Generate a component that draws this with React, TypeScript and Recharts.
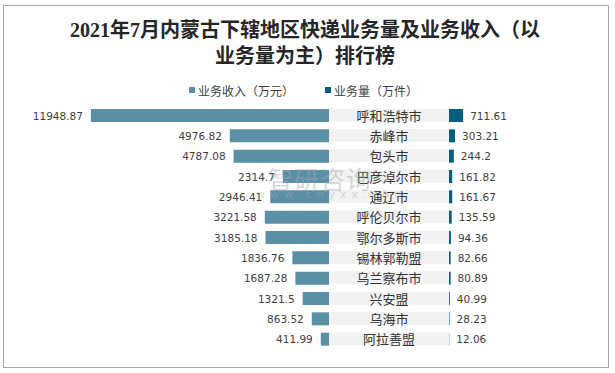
import React from "react";
import { BarChart, Bar, XAxis, YAxis, LabelList } from "recharts";

const regions = [
  "呼和浩特市",
  "赤峰市",
  "包头市",
  "巴彦淖尔市",
  "通辽市",
  "呼伦贝尔市",
  "鄂尔多斯市",
  "锡林郭勒盟",
  "乌兰察布市",
  "兴安盟",
  "乌海市",
  "阿拉善盟",
];
const revenue = [
  11948.87, 4976.82, 4787.08, 2314.7, 2946.41, 3221.58, 3185.18, 1836.76,
  1687.28, 1321.5, 863.52, 411.99,
];
const volume = [
  711.61, 303.21, 244.2, 161.82, 161.67, 135.59, 94.36, 82.66, 80.89, 40.99,
  28.23, 12.06,
];

const REV_COLOR = "#5b8fa6";
const VOL_COLOR = "#005f7f";
const NUM_FONT = "'DejaVu Sans', Verdana, sans-serif";
const CJK_FONT = "'Noto Sans CJK SC', sans-serif";

const rows = regions.map((name, i) => ({
  name,
  revenue: revenue[i],
  volume: volume[i],
}));

const MARGIN_TOP = 105;
const MARGIN_BOTTOM = 24;

function LeftLabel(props: any) {
  const { x, y, width, height, value } = props;
  const left = Math.min(x, x + width);
  return (
    <text
      x={left - 8}
      y={y + height / 2}
      textAnchor="end"
      dominantBaseline="central"
      fontSize={10.5}
      fontFamily={NUM_FONT}
      fill="#404040"
    >
      {value}
    </text>
  );
}

function RightLabel(props: any) {
  const { x, y, width, height, value } = props;
  const right = Math.max(x, x + width);
  return (
    <text
      x={right + 7}
      y={y + height / 2}
      textAnchor="start"
      dominantBaseline="central"
      fontSize={10.5}
      fontFamily={NUM_FONT}
      fill="#404040"
    >
      {value}
    </text>
  );
}

function RegionTick(props: any) {
  const { y, payload } = props;
  return (
    <g>
      <rect x={0} y={y - 6.5} width={120} height={13} fill="#f2f2f2" />
      <text
        x={60}
        y={y}
        textAnchor="middle"
        dominantBaseline="central"
        fontSize={13}
        fontFamily={CJK_FONT}
        fill="#333333"
      >
        {payload.value}
      </text>
    </g>
  );
}

export default function App() {
  return (
    <div
      style={{
        position: "absolute",
        left: 0,
        top: 0,
        width: 615,
        height: 373,
        background: "#fff",
        overflow: "hidden",
      }}
    >
      <div
        style={{
          position: "absolute",
          left: 3,
          top: 5,
          width: 604,
          height: 361,
          border: "1px solid #a6a6a6",
        }}
      />
      <div
        style={{
          position: "absolute",
          left: 0,
          top: 17,
          width: 610,
          textAlign: "center",
          fontFamily: "'Liberation Serif', 'Noto Sans CJK SC', serif",
          fontWeight: "bold",
          fontSize: 20,
          lineHeight: "26px",
          color: "#262626",
        }}
      >
        2021年7月内蒙古下辖地区快递业务量及业务收入（以
        <br />
        业务量为主）排行榜
      </div>

      {/* legend */}
      <div
        style={{
          position: "absolute",
          left: 189,
          top: 82,
          height: 16,
          display: "flex",
          alignItems: "center",
          fontFamily: CJK_FONT,
          fontSize: 12,
          color: "#404040",
        }}
      >
        <span style={{ width: 6, height: 6, background: REV_COLOR, marginRight: 3 }} />
        <span>业务收入（万元）</span>
        <span
          style={{ width: 6, height: 6, background: VOL_COLOR, marginLeft: 31, marginRight: 3 }}
        />
        <span>业务量（万件）</span>
      </div>

      <div style={{ position: "absolute", left: 0, top: 0 }}>
        <BarChart
          width={329}
          height={373}
          layout="vertical"
          data={rows}
          margin={{ top: MARGIN_TOP, bottom: MARGIN_BOTTOM, left: 50, right: 0 }}
        >
          <XAxis type="number" domain={[0, 14000]} reversed hide />
          <YAxis type="category" dataKey="name" hide />
          <Bar dataKey="revenue" fill={REV_COLOR} barSize={13} isAnimationActive={false}>
            <LabelList dataKey="revenue" content={LeftLabel} />
          </Bar>
        </BarChart>
      </div>

      <div style={{ position: "absolute", left: 329, top: 0 }}>
        <BarChart
          width={286}
          height={373}
          layout="vertical"
          data={rows}
          margin={{ top: MARGIN_TOP, bottom: MARGIN_BOTTOM, left: 0, right: 7 }}
        >
          <XAxis type="number" domain={[0, 8000]} hide />
          <YAxis
            type="category"
            dataKey="name"
            width={120}
            axisLine={false}
            tickLine={false}
            tick={RegionTick}
            interval={0}
          />
          <Bar dataKey="volume" fill={VOL_COLOR} barSize={13} isAnimationActive={false}>
            <LabelList dataKey="volume" content={RightLabel} />
          </Bar>
        </BarChart>
      </div>

      {/* watermark */}
      <div
        style={{
          position: "absolute",
          left: 268,
          top: 160,
          fontFamily: CJK_FONT,
          fontSize: 25,
          letterSpacing: 1,
          color: "rgba(160,170,180,0.45)",
          pointerEvents: "none",
        }}
      >
        智研咨询
      </div>
      <div
        style={{
          position: "absolute",
          left: 256,
          top: 188,
          fontFamily: NUM_FONT,
          fontSize: 11,
          letterSpacing: 5,
          color: "rgba(160,170,180,0.45)",
          pointerEvents: "none",
        }}
      >
        www.chyxx.com
      </div>
    </div>
  );
}
